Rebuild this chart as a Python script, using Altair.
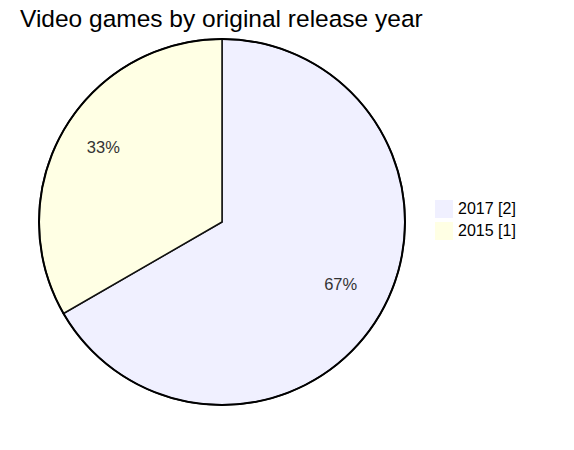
import altair as alt
import pandas as pd

years = ["2017", "2015"]
counts = [2, 1]
colors = ["#f0f0ff", "#ffffe4"]

total = sum(counts)
df = pd.DataFrame({
    "year": years,
    "count": counts,
    "order": list(range(len(years))),
    "label": [f"{y} [{c}]" for y, c in zip(years, counts)],
    "pct": [f"{round(c / total * 100)}%" for c in counts],
})

TOP = 40
CX, CY, R = 214, 222 - 8 - TOP, 183

color = alt.Color(
    "label:N",
    scale=alt.Scale(domain=df["label"].tolist(), range=colors),
    sort=df["label"].tolist(),
    legend=alt.Legend(
        title=None, orient="none", legendX=427, legendY=200 - 8 - TOP,
        symbolType="square", symbolSize=324, symbolStrokeWidth=0,
        labelFont="Liberation Sans", labelFontSize=16, labelColor="#000",
        labelOffset=5, rowPadding=4, padding=0,
    ),
)

base = alt.Chart(df).encode(
    theta=alt.Theta("count:Q", stack=True),
    order=alt.Order("order:Q"),
)

slices = base.mark_arc(radius=R, stroke="#111", strokeWidth=1.5).encode(
    color=color, x=alt.value(CX), y=alt.value(CY)
)

outline = alt.Chart(pd.DataFrame({"v": [1]})).mark_arc(
    radius=R, fill=None, filled=False, stroke="#000", strokeWidth=2
).encode(theta=alt.Theta("v:Q", scale=alt.Scale(domain=[0, 1])),
         x=alt.value(CX), y=alt.value(CY))

labels = base.mark_text(
    radius=137, dy=-5.5, font="Liberation Sans", fontSize=16.5, color="#333"
).encode(text="pct:N", x=alt.value(CX), y=alt.value(CY))

chart = alt.layer(slices, outline, labels).resolve_scale(
    theta="independent"
).properties(
    width=558, height=434 - TOP,
    autosize=alt.AutoSizeParams(type="none"),
    padding={"top": TOP, "left": 0, "right": 0, "bottom": 0},
    title=alt.TitleParams(
        "Video games by original release year", anchor="start", dx=12,
        font="Liberation Sans", fontSize=24.5, fontWeight="normal", color="#000",
        offset=3,
    ),
).configure_view(stroke=None)

chart.save("out.html", embed_options={"renderer": "svg", "actions": False})
